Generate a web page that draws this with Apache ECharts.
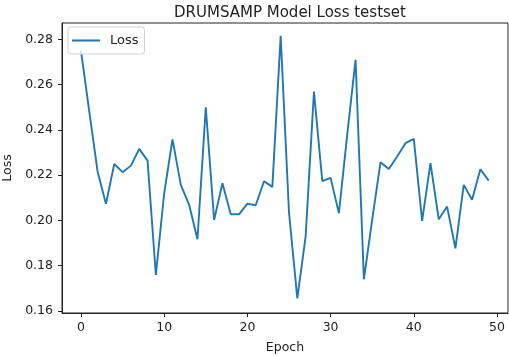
<!DOCTYPE html>
<html>
<head>
<meta charset="utf-8">
<script src="https://cdn.jsdelivr.net/npm/echarts@6/dist/echarts.min.js"></script>
<style>
html,body{margin:0;padding:0;background:#fff;}
#chart{width:509px;height:356px;}
</style>
</head>
<body>
<div id="chart"></div>
<script>
const epochs = [0,1,2,3,4,5,6,7,8,9,10,11,12,13,14,15,16,17,18,19,20,21,22,23,24,25,26,27,28,29,30,31,32,33,34,35,36,37,38,39,40,41,42,43,44,45,46,47,48,49];
const loss = [0.2750,0.2480,0.2215,0.2073,0.2249,0.2213,0.2242,0.2316,0.2264,0.1759,
              0.2120,0.2358,0.2157,0.2069,0.1917,0.2500,0.2002,0.2164,0.2027,0.2027,
              0.2074,0.2067,0.2173,0.2148,0.2816,0.2035,0.1656,0.1929,0.2569,0.2174,
              0.2188,0.2032,0.2380,0.2709,0.1740,0.2003,0.2257,0.2227,0.2282,0.2341,
              0.2360,0.1998,0.2253,0.2005,0.2061,0.1877,0.2157,0.2091,0.2226,0.2176];
const xTicks = [0,10,20,30,40,50];
const yTicks = [0.16,0.18,0.20,0.22,0.24,0.26,0.28];
const titleText = 'DRUMSAMP Model Loss testset';
const seriesName = 'Loss';
const xName = 'Epoch';
const yName = 'Loss';

const FONT = 'DejaVu Sans';
const TXT = '#222';
const chart = echarts.init(document.getElementById('chart'), null, {renderer:'canvas'});
chart.setOption({
  animation: false,
  backgroundColor: '#fff',
  title: {
    text: titleText, left: 285, top: 1, textAlign: 'center',
    textStyle: {fontFamily: FONT, fontSize: 15, fontWeight: 'normal', color: TXT}
  },
  legend: {
    left: 68, top: 27,
    data: [{name: seriesName, icon: 'rect'}],
    itemWidth: 28, itemHeight: 2,
    padding: [6, 6, 6, 4],
    borderColor: '#d0d0d0', borderWidth: 1, borderRadius: 3,
    backgroundColor: 'rgba(255,255,255,0.8)',
    textStyle: {fontFamily: FONT, fontSize: 13, color: TXT, padding: [0,0,0,5], lineHeight: 15}
  },
  grid: {
    left: 62, right: 1, top: 23, bottom: 43,
    containLabel: false, outerBoundsMode: 'none',
    show: true, borderColor: '#222', borderWidth: 1, backgroundColor: 'transparent'
  },
  xAxis: {
    type: 'value', min: -2.28, max: 51.32,
    name: xName, nameLocation: 'middle', nameGap: 28,
    nameTextStyle: {fontFamily: FONT, fontSize: 12.5, color: TXT},
    axisLine: {show: true, onZero: false, lineStyle: {color: '#222', width: 1}},
    axisTick: {show: true, length: 4, lineStyle: {color: '#222'}, customValues: xTicks},
    axisLabel: {fontFamily: FONT, fontSize: 12.5, color: TXT, margin: 8, customValues: xTicks,
      formatter: v => String(Math.round(v))},
    splitLine: {show: false}
  },
  yAxis: {
    type: 'value', min: 0.1591, max: 0.2872,
    name: yName, nameLocation: 'middle', nameGap: 44,
    nameTextStyle: {fontFamily: FONT, fontSize: 12.5, color: TXT},
    axisLine: {show: true, onZero: false, lineStyle: {color: '#222', width: 1}},
    axisTick: {show: true, length: 4, lineStyle: {color: '#222'}, customValues: yTicks},
    axisLabel: {fontFamily: FONT, fontSize: 12.5, color: TXT, margin: 9, customValues: yTicks,
      formatter: v => v.toFixed(2)},
    splitLine: {show: false}
  },
  series: [{
    name: seriesName, type: 'line',
    data: epochs.map((e, i) => [e, loss[i]]),
    symbol: 'none',
    lineStyle: {color: '#1f77b4', width: 1.9},
    itemStyle: {color: '#1f77b4'}
  }]
});
</script>
</body>
</html>
